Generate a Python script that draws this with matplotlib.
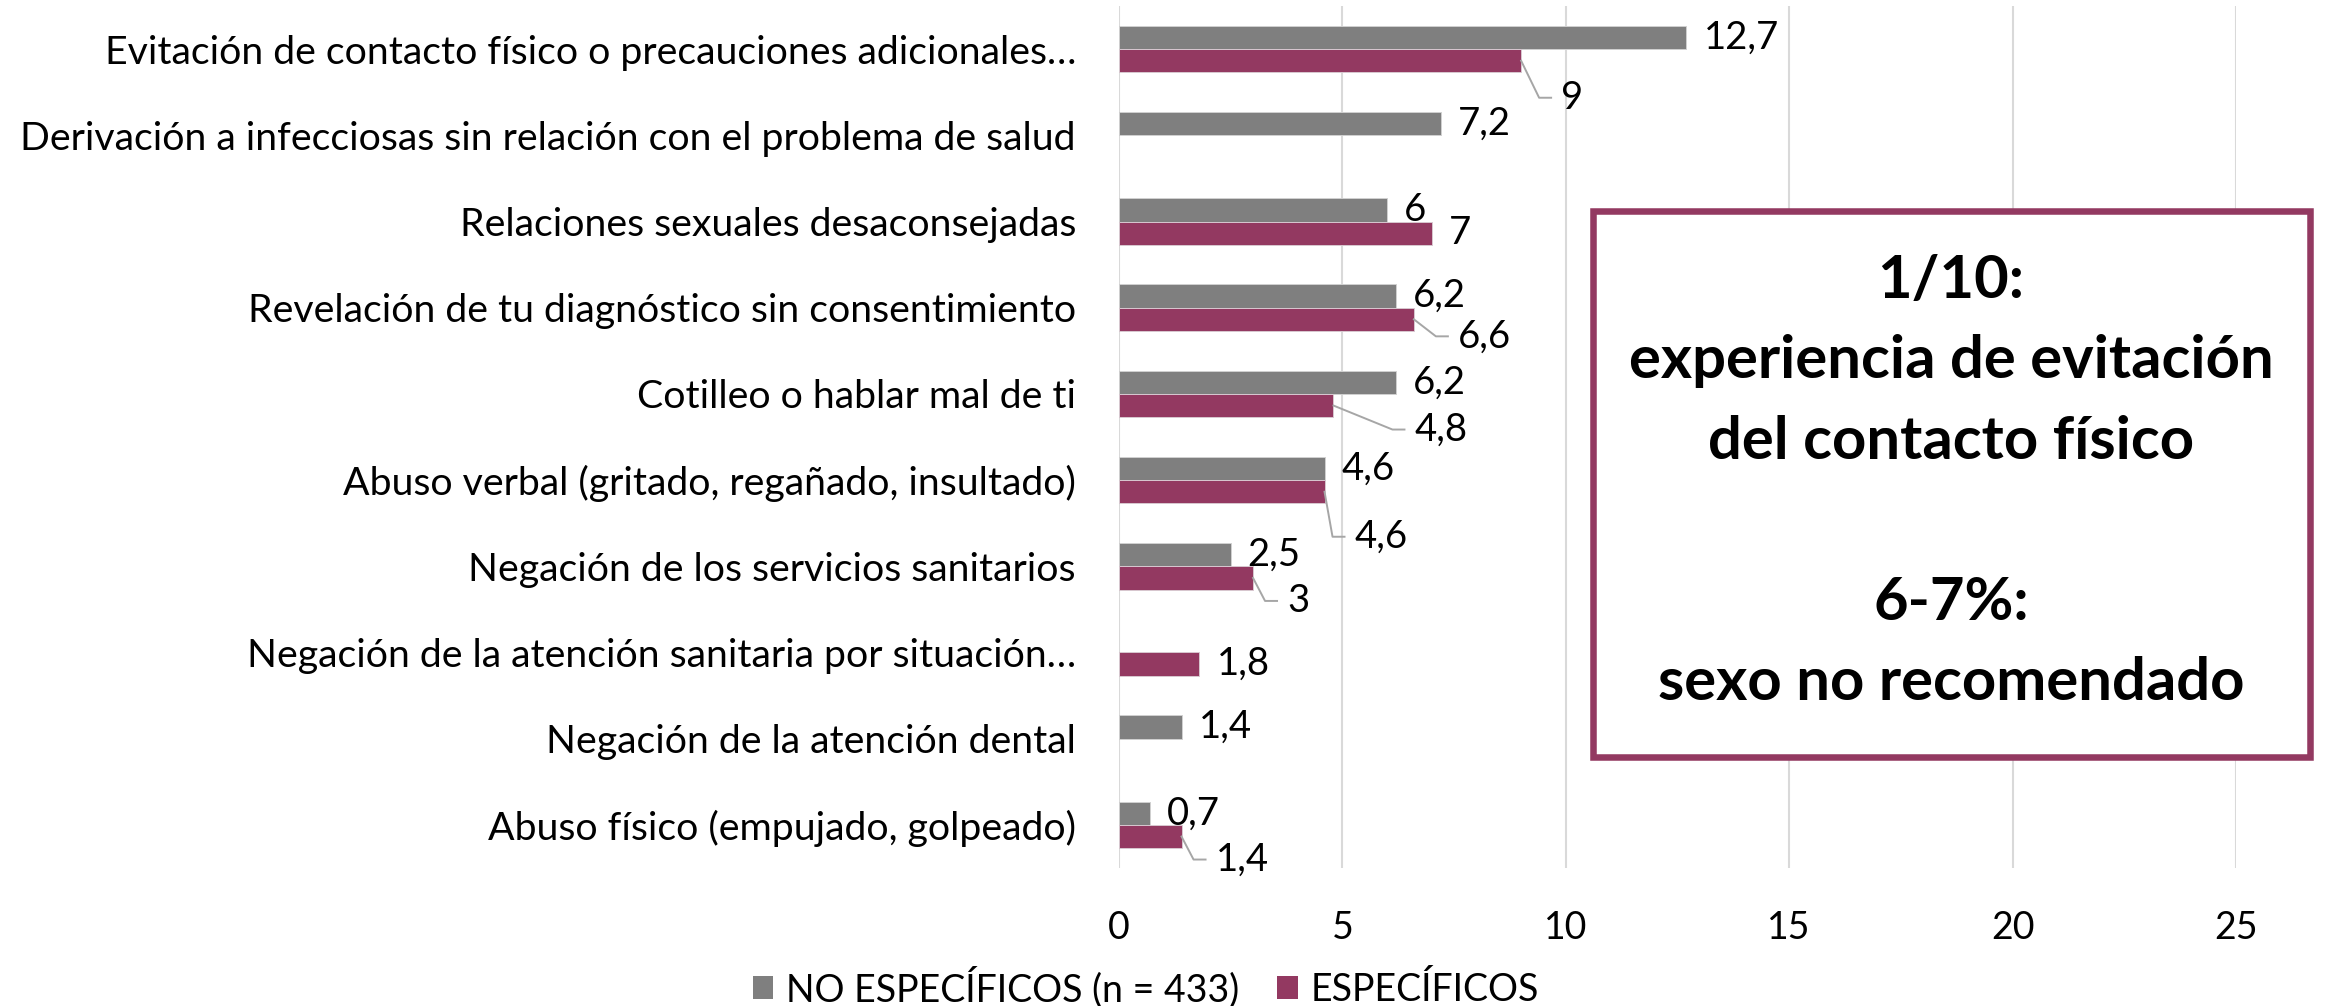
import numpy as np
import matplotlib
matplotlib.use("Agg")
import matplotlib.pyplot as plt
from matplotlib.patches import Patch, Rectangle
from matplotlib.lines import Line2D
from matplotlib.transforms import IdentityTransform

plt.rcParams['font.family'] = ['Lato', 'DejaVu Sans']

# ---------------- data ----------------
categories = [
    "Evitación de contacto físico o precauciones adicionales…",
    "Derivación a infecciosas sin relación con el problema de salud",
    "Relaciones sexuales desaconsejadas",
    "Revelación de tu diagnóstico sin consentimiento",
    "Cotilleo o hablar mal de ti",
    "Abuso verbal (gritado, regañado, insultado)",
    "Negación de los servicios sanitarios",
    "Negación de la atención sanitaria por situación…",
    "Negación de la atención dental",
    "Abuso físico (empujado, golpeado)",
]
no_especificos = [12.7, 7.2, 6, 6.2, 6.2, 4.6, 2.5, np.nan, 1.4, 0.7]
especificos = [9, np.nan, 7, 6.6, 4.8, 4.6, 3, 1.8, np.nan, 1.4]
series_names = ["NO ESPECÍFICOS (n = 433)", "ESPECÍFICOS"]
x_ticks = [0, 5, 10, 15, 20, 25]
box_text = "1/10:\nexperiencia de evitación\ndel contacto físico\n\n6-7%:\nsexo no recomendado"

# label placement (pixels: right, down) relative to bar end; None = default
esp_label_offsets = [(40, 37), None, None, (44, 17), (81, 24), (30, 45), (34, 23), None, None, (34, 23)]

# ---------------- style ----------------
GRAY = "#7F7F7F"
MAG = "#933961"
GRID = "#D9D9D9"
LEADER = "#A6A6A6"
W, H = 2328, 1006
DPI = 100

fig = plt.figure(figsize=(W / DPI, H / DPI), dpi=DPI)
ax = fig.add_axes([1119 / W, 1 - 868 / H, (2236 - 1119) / W, (868 - 6) / H])

n = len(categories)
y = np.arange(n)
bh = 0.27
ax.barh(y - bh / 2, no_especificos, height=bh, color=GRAY, edgecolor="#D0D0D0", linewidth=0.7, zorder=3)
ax.barh(y + bh / 2, especificos, height=bh, color=MAG, edgecolor="#D8C8D0", linewidth=0.7, zorder=3)

ax.set_xlim(0, 25)
ax.set_ylim(n - 0.5, -0.5)
ax.set_xticks(x_ticks)
ax.set_xticklabels([str(t) for t in x_ticks], fontsize=27)
ax.set_yticks(y)
ax.set_yticklabels(categories, fontsize=28.3)
ax.tick_params(axis="both", length=0)
ax.tick_params(axis="y", pad=31)
ax.tick_params(axis="x", pad=30)
ax.grid(axis="x", color=GRID, linewidth=1.5, zorder=0)
for s in ax.spines.values():
    s.set_visible(False)


def fmt(v):
    if float(v).is_integer():
        return str(int(v))
    return f"{v:.1f}".replace(".", ",")


LABEL_FS = 27.5
DEF_DX = 17

for i, v in enumerate(no_especificos):
    if np.isnan(v):
        continue
    ax.annotate(fmt(v), xy=(v, i - bh / 2), xytext=(DEF_DX, 0), textcoords="offset pixels",
                ha="left", va="center", fontsize=LABEL_FS, zorder=4)

gap, hlen = 10, 12
for i, v in enumerate(especificos):
    if np.isnan(v):
        continue
    off = esp_label_offsets[i]
    dx, dy = off if off is not None else (DEF_DX, 0)
    ax.annotate(fmt(v), xy=(v, i + bh / 2), xytext=(dx, -dy), textcoords="offset pixels",
                ha="left", va="center", fontsize=LABEL_FS, zorder=4)
    if off is not None:
        px, py = ax.transData.transform((v, i + bh / 2))
        xs = [px, px + dx - gap - hlen, px + dx - gap]
        ys = [py, py - dy, py - dy]
        fig.add_artist(Line2D(xs, ys, transform=IdentityTransform(), color=LEADER, linewidth=1.4, zorder=4))

# legend
handles = [Patch(facecolor=GRAY), Patch(facecolor=MAG)]
fig.legend(handles, series_names, loc="center", bbox_to_anchor=(1146 / W, 1 - 987 / H), ncol=2,
           frameon=False, fontsize=27, handlelength=0.55, handleheight=0.55, handletextpad=0.35,
           columnspacing=1.0)

# callout box
fig.add_artist(Rectangle((1593 / W, 1 - 757 / H), (2310 - 1593) / W, (757 - 211) / H,
                         transform=fig.transFigure, facecolor="white", edgecolor=MAG,
                         linewidth=4.7, zorder=5))
fig.text(1951 / W, 1 - 482 / H, box_text, ha="center", va="center", fontsize=43,
         fontweight="bold", linespacing=1.6, zorder=6)

fig.savefig("out.png", dpi=DPI)
